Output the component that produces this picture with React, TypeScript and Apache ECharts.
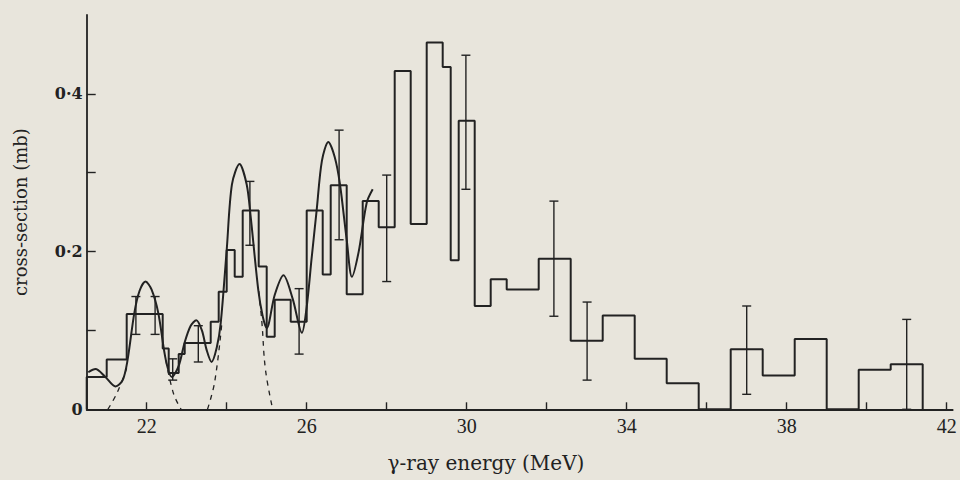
import React, { useEffect, useRef } from "react";
import * as echarts from "echarts";

// Histogram: bin edges (MeV) and cross-section per bin (mb)
const binEdges = [20.5, 21.0, 21.5, 21.95, 22.4, 22.55, 22.8, 22.95, 23.6, 23.8, 24.0, 24.2, 24.4, 24.8, 25.0, 25.2, 25.6, 26.0, 26.4, 26.6, 27.0, 27.4, 27.8, 28.2, 28.6, 29.0, 29.4, 29.6, 29.8, 30.2, 30.6, 31.0, 31.8, 32.6, 33.4, 34.2, 35.0, 35.8, 36.6, 37.4, 38.2, 39.0, 39.8, 40.6, 41.4];
const binValues = [0.041, 0.063, 0.121, 0.121, 0.077, 0.046, 0.07, 0.084, 0.111, 0.149, 0.202, 0.168, 0.252, 0.181, 0.092, 0.139, 0.111, 0.252, 0.171, 0.284, 0.146, 0.264, 0.231, 0.429, 0.235, 0.465, 0.434, 0.189, 0.366, 0.131, 0.165, 0.152, 0.191, 0.087, 0.119, 0.064, 0.033, 0, 0.076, 0.043, 0.089, 0, 0.05, 0.057];

// Error bars
const errX = [21.73, 22.21, 22.65, 23.29, 24.58, 25.81, 26.81, 28.0, 29.98, 32.18, 33.01, 37.0, 41.0];
const errLow = [0.095, 0.095, 0.037, 0.06, 0.208, 0.07, 0.215, 0.162, 0.279, 0.118, 0.037, 0.019, 0.0];
const errHigh = [0.143, 0.143, 0.064, 0.106, 0.289, 0.153, 0.354, 0.297, 0.449, 0.264, 0.136, 0.131, 0.114];

// Fitted solid curve (read points)
const curveX = [20.54, 20.72, 20.95, 21.22, 21.4, 21.52, 21.69, 21.82, 21.97, 22.12, 22.29, 22.48, 22.63, 22.8, 22.95, 23.1, 23.24, 23.38, 23.5, 23.62, 23.75, 23.85, 24.0, 24.13, 24.32, 24.5, 24.6, 24.79, 24.9, 25.0, 25.2, 25.42, 25.65, 25.88, 26.0, 26.12, 26.25, 26.38, 26.54, 26.7, 26.83, 27.0, 27.13, 27.3, 27.5, 27.65];
const curveY = [0.047, 0.051, 0.042, 0.029, 0.037, 0.062, 0.122, 0.15, 0.162, 0.152, 0.122, 0.062, 0.041, 0.055, 0.085, 0.106, 0.113, 0.1, 0.075, 0.06, 0.078, 0.109, 0.202, 0.285, 0.311, 0.285, 0.244, 0.151, 0.118, 0.103, 0.145, 0.17, 0.14, 0.097, 0.13, 0.19, 0.253, 0.315, 0.339, 0.32, 0.286, 0.215, 0.168, 0.2, 0.262, 0.279];

// Dashed component tails (read points)
const dashAX = [21.03, 21.27, 21.5];
const dashAY = [0.0, 0.022, 0.052];
const dashBX = [22.48, 22.67, 22.86];
const dashBY = [0.062, 0.02, 0.0];
const dashCX = [23.52, 23.7, 23.88];
const dashCY = [0.0, 0.035, 0.11];
const dashDX = [24.8, 24.88, 24.97, 25.15];
const dashDY = [0.15, 0.11, 0.05, 0.0];

// Axis ticks and labels
const xTickValues = [22, 24, 26, 28, 30, 32, 34, 36, 38, 40, 42];
const xLabelValues = [22, 26, 30, 34, 38, 42];
const yTickValues = [0.1, 0.2, 0.3, 0.4];
const yLabelValues = [0, 0.2, 0.4];
const yLabelTexts = ["0", "0·2", "0·4"];

const ink = "#222222";
const paper = "#e8e5dc";
const serifWide = "'DejaVu Serif', serif";
const serifNarrow = "'Liberation Serif', serif";

const zip = (xs: number[], ys: number[]) => xs.map((x, i) => [x, ys[i]]);

export default function App() {
  const ref = useRef<HTMLDivElement>(null);
  useEffect(() => {
    if (!ref.current) return;
    const chart = echarts.init(ref.current, undefined, { renderer: "svg" });

    const hist: number[][] = [[binEdges[0], 0]];
    binValues.forEach((v, i) => {
      hist.push([binEdges[i], v]);
      hist.push([binEdges[i + 1], v]);
    });
    hist.push([binEdges[binEdges.length - 1], 0]);

    const dashStyle = { color: ink, width: 1.3, type: [5, 5] as any };
    const dashSeries = [
      zip(dashAX, dashAY),
      zip(dashBX, dashBY),
      zip(dashCX, dashCY),
      zip(dashDX, dashDY),
    ].map((d) => ({
      type: "line",
      data: d,
      smooth: 0.4,
      showSymbol: false,
      lineStyle: dashStyle,
      z: 2,
    }));

    chart.setOption({
      animation: false,
      backgroundColor: paper,
      grid: { left: 86.7, right: 7.3, top: 15, bottom: 70.7 },
      xAxis: {
        type: "value",
        min: 20.5,
        max: 42.15,
        axisLine: { lineStyle: { color: ink, width: 1.8 } },
        axisTick: { inside: true, length: 7, customValues: xTickValues, lineStyle: { color: ink, width: 1.4 } },
        axisLabel: {
          customValues: xLabelValues,
          formatter: (v: number) => String(v),
          color: ink,
          fontFamily: serifNarrow,
          fontSize: 20,
          margin: 7,
        },
        splitLine: { show: false },
      },
      yAxis: {
        type: "value",
        min: 0,
        max: 0.5,
        name: "cross-section (mb)",
        nameLocation: "middle",
        nameGap: 57,
        nameTextStyle: { color: ink, fontFamily: serifWide, fontSize: 18 },
        axisLine: { show: true, lineStyle: { color: ink, width: 1.8 } },
        axisTick: { show: true, inside: true, length: 9, customValues: yTickValues, lineStyle: { color: ink, width: 1.4 } },
        axisLabel: {
          customValues: yLabelValues,
          formatter: (v: number) => {
            const i = yLabelValues.findIndex((u) => Math.abs(u - v) < 1e-9);
            return i >= 0 ? yLabelTexts[i] : "";
          },
          color: ink,
          fontFamily: serifWide,
          fontWeight: "bold",
          fontSize: 16,
          margin: 4,
        },
        splitLine: { show: false },
      },
      graphic: [
        {
          type: "text",
          x: 486,
          y: 463,
          style: {
            text: "γ-ray energy (MeV)",
            fill: ink,
            font: `20px ${serifWide}`,
            align: "center",
            verticalAlign: "middle",
          },
        },
      ],
      series: [
        {
          type: "line",
          data: hist,
          showSymbol: false,
          lineStyle: { color: ink, width: 2 },
          z: 3,
        },
        {
          type: "line",
          data: zip(curveX, curveY),
          smooth: 0.3,
          showSymbol: false,
          lineStyle: { color: ink, width: 2 },
          z: 4,
        },
        ...dashSeries,
        {
          type: "custom",
          data: errX.map((x, i) => [x, errLow[i], errHigh[i]]),
          renderItem: (params: any, api: any) => {
            const x = api.value(0);
            const p1 = api.coord([x, api.value(1)]);
            const p2 = api.coord([x, api.value(2)]);
            const w = 4.5;
            const st = { stroke: ink, lineWidth: 1.4 };
            return {
              type: "group",
              children: [
                { type: "line", shape: { x1: p1[0], y1: p1[1], x2: p2[0], y2: p2[1] }, style: st },
                { type: "line", shape: { x1: p1[0] - w, y1: p1[1], x2: p1[0] + w, y2: p1[1] }, style: st },
                { type: "line", shape: { x1: p2[0] - w, y1: p2[1], x2: p2[0] + w, y2: p2[1] }, style: st },
              ],
            };
          },
          z: 5,
        },
      ],
    });
    return () => chart.dispose();
  }, []);

  return (
    <div
      ref={ref}
      style={{ position: "fixed", left: 0, top: 0, width: 960, height: 480, background: paper }}
    />
  );
}
